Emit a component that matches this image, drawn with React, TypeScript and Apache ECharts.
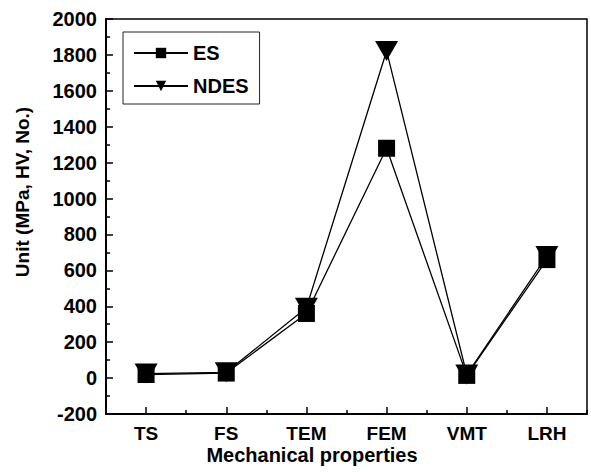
import React, { useEffect, useRef } from "react";
import * as echarts from "echarts";

const categories = ["TS", "FS", "TEM", "FEM", "VMT", "LRH"];
const esValues = [20, 28, 360, 1280, 15, 660];
const ndesValues = [25, 32, 392, 1822, 20, 680];
const yMin = -200;
const yMax = 2000;
const yInterval = 200;

const FONT = '"Liberation Sans", Arial, sans-serif';
const downTriangle = "path://M0,0 L20,0 L10,18 Z";

export default function App() {
  const ref = useRef<HTMLDivElement>(null);
  useEffect(() => {
    document.body.style.margin = "0";
    const chart = echarts.init(ref.current!, undefined, { renderer: "svg" });
    chart.setOption({
      animation: false,
      backgroundColor: "#ffffff",
      grid: {
        left: 106,
        top: 19,
        right: 4,
        bottom: 58,
        show: true,
        borderColor: "#000",
        borderWidth: 1.5,
        backgroundColor: "transparent",
      },
      legend: {
        orient: "vertical",
        left: 123,
        top: 32,
        padding: [11, 11, 8, 10],
        borderColor: "#222",
        borderWidth: 1,
        itemWidth: 54,
        itemHeight: 13,
        itemGap: 13,
        textStyle: { fontFamily: FONT, fontSize: 20, fontWeight: "bold", color: "#000" },
        data: ["ES", "NDES"],
      },
      xAxis: [
        {
          type: "category",
          data: categories,
          boundaryGap: true,
          axisLine: { show: true, onZero: false, lineStyle: { color: "#000", width: 2 } },
          axisTick: { show: true, inside: true, alignWithLabel: true, length: 7, lineStyle: { color: "#000", width: 1.5 } },
          axisLabel: { fontFamily: FONT, fontSize: 19, fontWeight: "bold", color: "#000", margin: 10 },
          splitLine: { show: false },
        },
        {
          type: "category",
          data: categories,
          boundaryGap: true,
          position: "bottom",
          axisLine: { show: false, onZero: false },
          axisTick: { show: true, inside: true, length: 4, lineStyle: { color: "#000", width: 1.5 } },
          axisLabel: { show: false },
          splitLine: { show: false },
        },
      ],
      yAxis: {
        type: "value",
        min: yMin,
        max: yMax,
        interval: yInterval,
        axisLine: { show: true, onZero: false, lineStyle: { color: "#000", width: 2 } },
        axisTick: { show: true, inside: true, length: 7, lineStyle: { color: "#000", width: 1.5 } },
        minorTick: { show: true, splitNumber: 2, length: 4, lineStyle: { color: "#000", width: 1.5 } },
        axisLabel: {
          fontFamily: FONT,
          fontSize: 20,
          fontWeight: "bold",
          color: "#000",
          margin: 9,
          formatter: (v: number) => String(v),
        },
        splitLine: { show: false },
      },
      graphic: [
        {
          type: "text",
          x: 22,
          y: 192,
          rotation: Math.PI / 2,
          style: {
            text: "Unit (MPa, HV, No.)",
            fontFamily: FONT,
            fontSize: 19,
            fontWeight: "bold",
            fill: "#000",
            align: "center",
            verticalAlign: "middle",
          },
        },
        {
          type: "text",
          x: 312,
          y: 455,
          style: {
            text: "Mechanical properties",
            fontFamily: FONT,
            fontSize: 20,
            fontWeight: "bold",
            fill: "#000",
            align: "center",
            verticalAlign: "middle",
          },
        },
      ],
      series: [
        {
          name: "ES",
          type: "line",
          data: esValues,
          symbol: "rect",
          symbolSize: 17,
          itemStyle: { color: "#000" },
          lineStyle: { color: "#000", width: 1.3 },
        },
        {
          name: "NDES",
          type: "line",
          data: ndesValues,
          symbol: downTriangle,
          symbolSize: [23, 20],
          itemStyle: { color: "#000" },
          lineStyle: { color: "#000", width: 1.3 },
        },
      ],
    });
    return () => chart.dispose();
  }, []);
  return <div ref={ref} style={{ width: 591, height: 472 }} />;
}
